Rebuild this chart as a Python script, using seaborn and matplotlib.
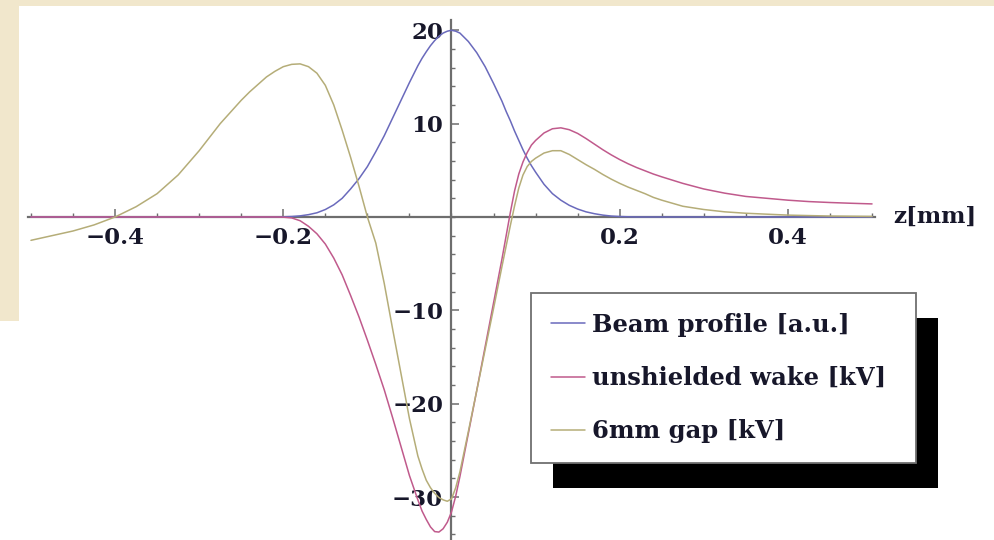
import matplotlib
matplotlib.use("Agg")
import numpy as np
import pandas as pd
import seaborn as sns
import matplotlib.pyplot as plt
from matplotlib.patches import Rectangle
from matplotlib.transforms import IdentityTransform
from matplotlib.ticker import FixedLocator, MultipleLocator
from matplotlib.font_manager import FontProperties

# longitudinal position along the bunch [mm]
z_mm = [
    -0.500, -0.475, -0.450, -0.425, -0.400, -0.375, -0.350, -0.325, -0.300, -0.275,
    -0.25, -0.24, -0.23, -0.22, -0.21, -0.20, -0.19, -0.18, -0.17, -0.16,
    -0.15, -0.14, -0.13, -0.12, -0.11, -0.10, -0.09, -0.08, -0.07, -0.06,
    -0.05, -0.04, -0.035, -0.03, -0.025, -0.02, -0.015, -0.01, -0.005, 0.00,
    0.005, 0.01, 0.02, 0.03, 0.04, 0.05, 0.06, 0.065, 0.07, 0.075,
    0.08, 0.085, 0.09, 0.095, 0.10, 0.11, 0.12, 0.13, 0.14,
    0.15, 0.16, 0.17, 0.18, 0.19, 0.20, 0.21, 0.22, 0.23, 0.24,
    0.25,
    0.275, 0.300, 0.325, 0.350, 0.375, 0.400, 0.425, 0.450, 0.475, 0.500,
]

beam_profile = [
    0, 0, 0, 0, 0, 0, 0, 0, 0, 0,
    0, 0, 0, 0, 0, 0.02, 0.05, 0.12, 0.25, 0.45,
    0.8, 1.3, 2.0, 3.0, 4.1, 5.4, 7.0, 8.7, 10.6, 12.5,
    14.4, 16.2, 17.0, 17.7, 18.35, 18.9, 19.35, 19.7, 19.9, 20.0,
    19.9, 19.7, 18.8, 17.6, 16.1, 14.3, 12.4, 11.3, 10.3, 9.2,
    8.2, 7.2, 6.3, 5.5, 4.8, 3.5, 2.5, 1.8, 1.25,
    0.85, 0.55, 0.35, 0.2, 0.1, 0.05, 0.02, 0, 0, 0,
    0,
    0, 0, 0, 0, 0, 0, 0, 0, 0, 0,
]

unshielded_wake = [
    0, 0, 0, 0, 0, 0, 0, 0, 0, 0,
    0, 0, 0, 0, 0, -0.02, -0.1, -0.4, -1.0, -1.8,
    -2.9, -4.4, -6.2, -8.4, -10.7, -13.2, -15.8, -18.5, -21.5, -24.6,
    -27.7, -30.3, -31.5, -32.4, -33.2, -33.7, -33.75, -33.4, -32.7, -31.6,
    -29.9, -27.8, -23.2, -18.6, -13.9, -9.2, -4.5, -2.0, 0.5, 2.8,
    4.6, 5.9, 6.9, 7.7, 8.2, 9.0, 9.45, 9.55, 9.35,
    8.95, 8.4, 7.8, 7.2, 6.65, 6.15, 5.7, 5.3, 4.95, 4.6,
    4.3,
    3.6, 3.0, 2.55, 2.2, 2.0, 1.8, 1.65, 1.55, 1.47, 1.4,
]

gap_6mm = [
    -2.5, -2.0, -1.5, -0.85, 0.0, 1.1, 2.5, 4.5, 7.1, 10.0,
    12.5, 13.4, 14.2, 15.0, 15.6, 16.1, 16.35, 16.4, 16.1, 15.4,
    14.1, 12.0, 9.3, 6.4, 3.3, 0.0, -2.8, -7.1, -12.0, -16.8,
    -21.6, -25.6, -27.0, -28.2, -29.0, -29.6, -30.05, -30.3, -30.45, -30.2,
    -29.0, -27.3, -23.0, -18.6, -14.2, -9.8, -5.3, -3.1, -0.9, 1.2,
    3.1, 4.5, 5.4, 5.95, 6.3, 6.85, 7.1, 7.1, 6.7,
    6.15, 5.6, 5.1, 4.55, 4.05, 3.6, 3.2, 2.85, 2.5, 2.1,
    1.8,
    1.15, 0.8, 0.55, 0.4, 0.3, 0.2, 0.15, 0.1, 0.08, 0.06,
]

series_labels = ["Beam profile [a.u.]", "unshielded wake [kV]", "6mm gap [kV]"]
series_colors = ["#6a6abc", "#c05a8c", "#b5ad78"]

x_major = [-0.4, -0.2, 0.2, 0.4]
y_major = [-30, -20, -10, 10, 20]

df = pd.concat([
    pd.DataFrame({"z": z_mm, "value": vals, "series": name})
    for name, vals in zip(series_labels, [beam_profile, unshielded_wake, gap_6mm])
], ignore_index=True)

sns.set_theme(style="white")
W, H = 995, 540
fig = plt.figure(figsize=(W / 100, H / 100), dpi=100, facecolor="white")

# parchment border of the slide behind the plot
beige = "#f1e7cc"
fig.patches.append(Rectangle((0, 1 - 6 / H), 1, 6 / H, transform=fig.transFigure,
                             facecolor=beige, edgecolor="none", zorder=0))
fig.patches.append(Rectangle((0, 1 - 321 / H), 19 / W, 321 / H, transform=fig.transFigure,
                             facecolor=beige, edgecolor="none", zorder=0))

ax = fig.add_axes([27.6 / W, 0.0, 847.8 / W, 520 / H])
ax.set_facecolor("none")

sns.lineplot(data=df, x="z", y="value", hue="series", palette=series_colors,
             hue_order=series_labels, estimator=None, sort=False, legend=False,
             linewidth=1.1, ax=ax, zorder=3)

ax.set_xlim(-0.504, 0.504)
ax.set_ylim(-34.6, 21.1)
ax.set_xlabel("")
ax.set_ylabel("")

# axes crossing at the origin
axis_col = "#6e6e6e"
for side in ["top", "right"]:
    ax.spines[side].set_visible(False)
ax.spines["bottom"].set_position(("data", 0))
ax.spines["left"].set_position(("data", 0))
for side in ["bottom", "left"]:
    ax.spines[side].set_color(axis_col)
    ax.spines[side].set_linewidth(1.6)
    ax.spines[side].set_zorder(2)

ax.xaxis.set_major_locator(FixedLocator(x_major))
ax.xaxis.set_minor_locator(MultipleLocator(0.05))
ax.yaxis.set_major_locator(FixedLocator(y_major))
ax.yaxis.set_minor_locator(MultipleLocator(2))
ax.set_xticklabels([f"{v:.1f}".replace("-", "\u2212") for v in x_major])
ax.set_yticklabels([f"{v:d}".replace("-", "\u2212") for v in y_major])

tick_font = FontProperties(family="DejaVu Serif", weight="bold", size=16.5)
text_col = "#17172a"
ax.tick_params(axis="both", which="both", bottom=True, left=True, top=False, right=False)
ax.tick_params(axis="both", which="major", direction="in", length=6, width=1.1,
               color=axis_col, labelcolor=text_col)
ax.tick_params(axis="both", which="minor", direction="in", length=3.2, width=1.0,
               color=axis_col)
ax.tick_params(axis="x", which="major", pad=7)
ax.tick_params(axis="y", which="major", pad=6)
for lab in ax.get_xticklabels() + ax.get_yticklabels():
    lab.set_fontproperties(tick_font)

fig.text(893 / W, 1 - 217 / H, "z[mm]", ha="left", va="center",
         fontproperties=tick_font, color=text_col)

# legend with a solid drop shadow
leg_font = FontProperties(family="DejaVu Serif", weight="bold", size=17.5)
handles = ax.get_lines()[:3]
leg = ax.legend(handles, series_labels, loc="upper left",
                bbox_to_anchor=(530.7 / W, 1 - 292.7 / H, 385 / W, 0),
                bbox_transform=fig.transFigure, mode="expand", borderaxespad=0,
                frameon=True, fancybox=False, handlelength=1.4, handletextpad=0.28,
                labelspacing=1.2, borderpad=0.83,
                prop=leg_font, labelcolor=text_col)
frame = leg.get_frame()
frame.set_edgecolor("#707070")
frame.set_linewidth(1.3)
frame.set_facecolor("white")
frame.set_alpha(1)
leg.set_zorder(6)

fig.canvas.draw()
bb = leg.get_window_extent()
shadow = Rectangle((bb.x0 + 22, bb.y0 - 25), bb.width, bb.height,
                   transform=IdentityTransform(), facecolor="black",
                   edgecolor="none", zorder=5.5, clip_on=False)
ax.add_artist(shadow)

fig.savefig("out.png", dpi=100)
